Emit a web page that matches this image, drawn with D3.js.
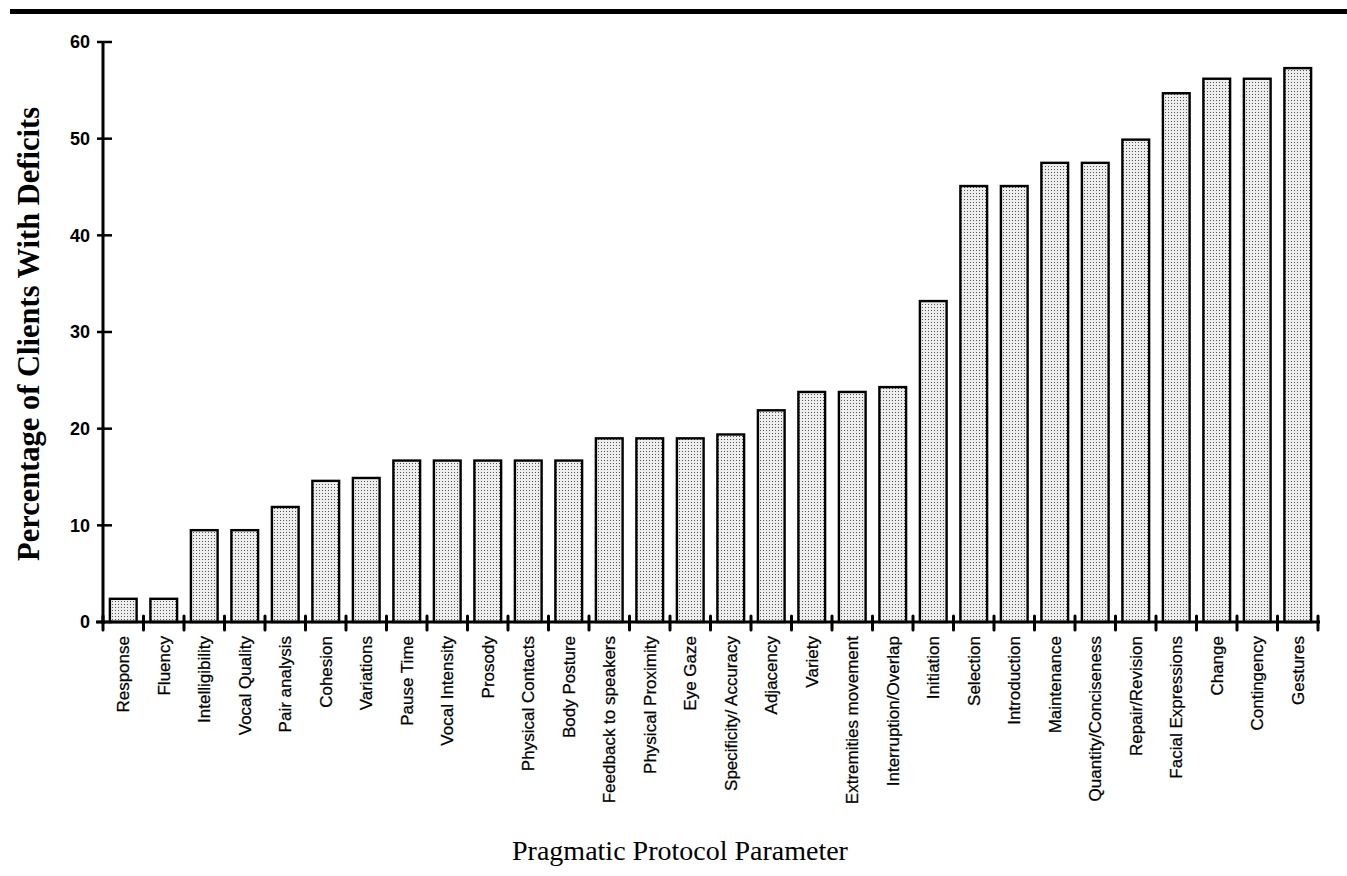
<!DOCTYPE html>
<html>
<head>
<meta charset="utf-8">
<script src="https://cdn.jsdelivr.net/npm/d3@7"></script>
<style>
  html, body { margin: 0; padding: 0; background: #fff; }
  svg { display: block; }
</style>
</head>
<body>
<svg id="chart" width="1347" height="876"></svg>
<script>
const categories = ["Response","Fluency","Intelligibility","Vocal Quality","Pair analysis","Cohesion","Variations","Pause Time","Vocal Intensity","Prosody","Physical Contacts","Body Posture","Feedback to speakers","Physical Proximity","Eye Gaze","Specificity/ Accuracy","Adjacency","Variety","Extremities movement","Interruption/Overlap","Initiation","Selection","Introduction","Maintenance","Quantity/Conciseness","Repair/Revision","Facial Expressions","Change","Contingency","Gestures"];
const values = [2.4,2.4,9.5,9.5,11.9,14.6,14.9,16.7,16.7,16.7,16.7,16.7,19.0,19.0,19.0,19.4,21.9,23.8,23.8,24.3,33.2,45.1,45.1,47.5,47.5,49.9,54.7,56.2,56.2,57.3];
const yTicks = [0,10,20,30,40,50,60];
const yTitle = "Percentage of Clients With Deficits";
const xTitle = "Pragmatic Protocol Parameter";

const svg = d3.select("#chart");

// dotted fill pattern
const defs = svg.append("defs");
const pat = defs.append("pattern").attr("id","dots").attr("patternUnits","userSpaceOnUse")
  .attr("width",3).attr("height",3);
pat.append("rect").attr("width",3).attr("height",3).attr("fill","#eeeeee");
pat.append("rect").attr("x",1).attr("y",1).attr("width",1).attr("height",1).attr("fill","#555");

const x0 = 103, x1 = 1318, yTop = 42, yBot = 622;
const x = d3.scaleBand().domain(categories).range([x0, x1]).paddingInner(0.34).paddingOuter(0.17);
const y = d3.scaleLinear().domain([0,60]).range([yBot, yTop]);

// top rule
svg.append("rect").attr("x",10).attr("y",9).attr("width",1337).attr("height",5).attr("fill","#000");

// bars
svg.append("g").selectAll("rect").data(values).join("rect")
  .attr("x",(d,i)=>x(categories[i]))
  .attr("y",d=>y(d))
  .attr("width",x.bandwidth())
  .attr("height",d=>y(0)-y(d))
  .attr("fill","url(#dots)")
  .attr("stroke","#000")
  .attr("stroke-width",2.4);

// y axis
const yAxis = svg.append("g");
yAxis.append("line").attr("x1",x0).attr("x2",x0).attr("y1",y(60)).attr("y2",y(0)+2)
  .attr("stroke","#000").attr("stroke-width",3);
yAxis.selectAll("line.tick").data(yTicks).join("line").attr("class","tick")
  .attr("x1",x0-6).attr("x2",x0+9).attr("y1",d=>y(d)).attr("y2",d=>y(d))
  .attr("stroke","#000").attr("stroke-width",2.5);
yAxis.selectAll("text").data(yTicks).join("text")
  .attr("x",x0-13).attr("y",d=>y(d)).attr("dy","0.36em")
  .attr("text-anchor","end")
  .attr("font-family","Liberation Sans, Arial, sans-serif")
  .attr("font-weight","bold").attr("font-size",18)
  .text(d=>d);

// x axis
const xAxis = svg.append("g");
xAxis.append("line").attr("x1",x0-7).attr("x2",x1+2).attr("y1",yBot).attr("y2",yBot)
  .attr("stroke","#000").attr("stroke-width",3.2);
const boundaries = d3.range(categories.length+1).map(i => x0 + i*x.step());
xAxis.selectAll("line.tick").data(boundaries).join("line").attr("class","tick")
  .attr("x1",d=>d).attr("x2",d=>d).attr("y1",yBot-6).attr("y2",yBot+8)
  .attr("stroke","#000").attr("stroke-width",3).attr("stroke-linecap","round");
xAxis.selectAll("text").data(categories).join("text")
  .attr("transform",d=>`translate(${x(d)+x.bandwidth()/2},636) rotate(-90)`)
  .attr("dy","0.35em")
  .attr("text-anchor","end")
  .attr("font-family","Liberation Sans, Arial, sans-serif")
  .attr("font-size",17)
  .attr("stroke","#000").attr("stroke-width",0.25)
  .text(d=>d);

// titles
svg.append("text")
  .attr("transform",`translate(28,334) rotate(-90)`)
  .attr("dy","0.35em")
  .attr("text-anchor","middle")
  .attr("font-family","Liberation Serif, Times New Roman, serif")
  .attr("font-weight","bold").attr("font-size",30.5)
  .text(yTitle);
svg.append("text")
  .attr("x",680).attr("y",860)
  .attr("text-anchor","middle")
  .attr("font-family","Liberation Serif, Times New Roman, serif")
  .attr("font-size",28)
  .text(xTitle);
</script>
</body>
</html>
